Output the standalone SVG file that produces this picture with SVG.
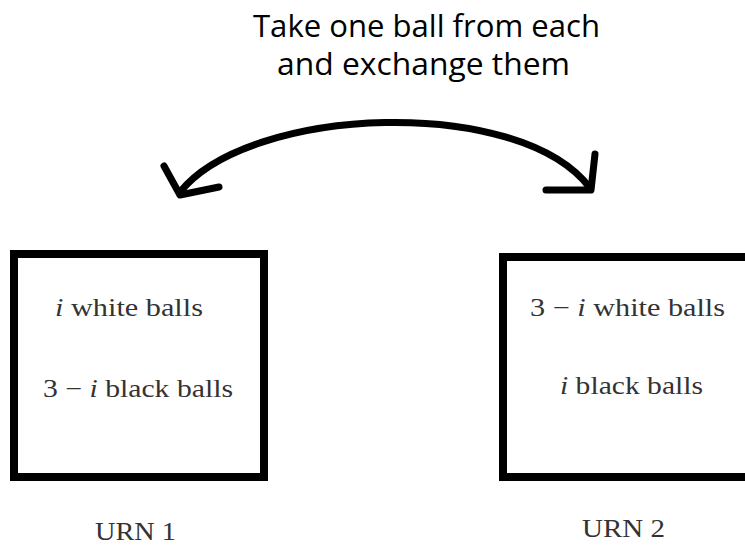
<svg xmlns="http://www.w3.org/2000/svg" width="745" height="547" viewBox="0 0 745 547">
<style>
.title{font-family:"Open Sans","Liberation Sans",sans-serif;font-size:31px;fill:#000}
.math{font-family:"Liberation Serif","DejaVu Serif",serif;font-size:25px;fill:#333}
.it{font-style:italic}
.urn{font-family:"Liberation Serif","DejaVu Serif",serif;font-size:25px;fill:#333}
.box{fill:none;stroke:#000;stroke-width:8}
.conn{fill:none;stroke:#000;stroke-width:7;stroke-linecap:round;stroke-linejoin:round}
</style>
<rect width="745" height="547" fill="#fff"/>
<g id="title">
<text class="title" x="253" y="37" textLength="347" lengthAdjust="spacingAndGlyphs">Take one ball from each</text>
<text class="title" x="277" y="75" textLength="293" lengthAdjust="spacingAndGlyphs">and exchange them</text>
</g>
<g id="connectors">
<path class="conn" d="M180,192 C250,105 520,95 590,188"/>
<path class="conn" d="M164,166 L180,195 L219,187"/>
<path class="conn" d="M595,154 L591,190 L546,190"/>
</g>
<g id="urn1">
<rect class="box" x="14" y="254" width="250" height="223"/>
<text class="math" x="55" y="316" textLength="148" lengthAdjust="spacingAndGlyphs"><tspan class="it">i</tspan> white balls</text>
<text class="math" x="43" y="397" textLength="190" lengthAdjust="spacingAndGlyphs">3 − <tspan class="it">i</tspan> black balls</text>
<text class="urn" x="95" y="540" textLength="81" lengthAdjust="spacingAndGlyphs">URN 1</text>
</g>
<g id="urn2">
<rect class="box" x="503" y="257" width="260" height="220"/>
<text class="math" x="530" y="316" textLength="195" lengthAdjust="spacingAndGlyphs">3 − <tspan class="it">i</tspan> white balls</text>
<text class="math" x="560" y="394" textLength="143" lengthAdjust="spacingAndGlyphs"><tspan class="it">i</tspan> black balls</text>
<text class="urn" x="582" y="537" textLength="83" lengthAdjust="spacingAndGlyphs">URN 2</text>
</g>
</svg>
